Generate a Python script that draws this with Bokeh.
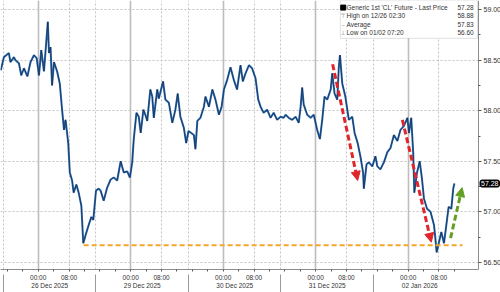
from bokeh.plotting import figure
from bokeh.models import (Range1d, LinearAxis, FixedTicker, Grid, Arrow, NormalHead,
                          Label, BoxAnnotation, NumeralTickFormatter)
from bokeh.core.properties import value
from bokeh.embed import file_html
from bokeh.resources import INLINE

# ---------------- data ----------------
# x: hours on the gap-compressed session axis (0 = start of the 26 Dec session block)
hours_26dec = [-0.7, 0.1, 1.4, 1.8, 2.7, 3.1, 4.0, 4.6, 5.3, 6.2, 7.0, 7.9, 8.6, 9.2, 9.8,
               10.5, 11.5, 11.8, 12.2, 12.6, 13.1, 13.9, 14.6, 15.2, 15.7, 16.1, 16.8, 17.2,
               17.8, 18.2, 18.9, 19.5, 20.2, 20.7, 21.3, 22.1, 22.8, 23.3]
price_26dec = [58.40, 58.53, 58.57, 58.48, 58.53, 58.50, 58.47, 58.35, 58.42, 58.34, 58.48,
               58.55, 58.52, 58.35, 58.60, 58.39, 58.88, 58.57, 58.63, 58.25, 58.48, 58.39,
               58.27, 58.01, 57.81, 57.91, 57.68, 57.39, 57.31, 57.19, 57.27, 57.19, 57.06,
               56.69, 56.77, 56.87, 56.95, 56.92]
hours_29dec = [24.0, 24.7, 25.2, 26.0, 26.9, 27.8, 28.6, 29.5, 30.4, 31.2, 32.1, 32.8, 33.4,
               33.8, 34.5, 35.1, 35.6, 36.3, 36.8, 37.3, 38.1, 38.6, 39.0, 39.9, 40.3, 41.4,
               42.0, 42.9, 43.8, 44.6, 45.2, 45.9, 46.8, 47.4]
price_29dec = [57.21, 57.23, 57.21, 57.11, 57.24, 57.32, 57.34, 57.31, 57.50, 57.39, 57.40,
               57.34, 57.49, 57.72, 57.98, 57.94, 57.78, 58.01, 57.96, 57.90, 58.21, 58.14,
               57.93, 58.21, 58.12, 58.29, 58.11, 58.08, 57.88, 58.01, 58.17, 57.94, 57.83,
               57.68]
hours_30dec = [48.0, 48.7, 49.4, 49.8, 50.3, 51.1, 52.0, 52.4, 53.3, 54.2, 55.0, 55.9, 56.6,
               57.2, 58.0, 58.9, 59.8, 60.6, 61.5, 62.1, 62.8, 63.7, 64.5, 65.4, 66.1, 66.7,
               67.5, 68.4, 69.3, 70.1, 71.0, 71.9]
price_30dec = [57.80, 57.78, 57.76, 57.62, 57.90, 57.93, 58.04, 58.14, 58.04, 58.21, 58.11,
               57.96, 58.04, 58.21, 58.30, 58.43, 58.30, 58.21, 58.45, 58.29, 58.37, 58.45,
               58.42, 58.32, 58.11, 58.04, 57.98, 58.01, 57.93, 57.98, 57.91, 57.94]
hours_31dec = [72.7, 73.2, 74.0, 74.9, 75.8, 76.6, 77.1, 77.5, 77.9, 78.8, 79.7, 80.5, 81.4,
               82.1, 82.7, 83.3, 84.0, 84.9, 85.3, 85.9, 86.6, 87.0, 87.3, 87.9, 88.7, 89.6,
               90.5, 91.1, 91.9, 92.6, 93.3, 93.5, 94.2, 94.8, 95.7]
price_31dec = [57.93, 57.96, 57.93, 57.91, 57.94, 57.88, 58.04, 58.23, 58.06, 57.96, 57.93,
               57.96, 57.81, 57.72, 57.91, 58.14, 58.11, 58.21, 58.37, 58.17, 58.11, 58.43,
               58.55, 58.27, 58.14, 57.91, 57.94, 57.78, 57.68, 57.55, 57.39, 57.23, 57.47,
               57.49, 57.45]
hours_02jan = [96.5, 97.0, 97.8, 98.7, 99.6, 100.4, 101.3, 102.2, 103.0, 103.9, 104.8, 105.2,
               105.8, 106.3, 106.6, 107.3, 108.0, 108.6, 109.1, 109.9, 110.8, 111.7, 112.0,
               112.4, 113.6, 114.3, 114.9, 115.5, 116.2, 116.7, 117.0]
price_02jan = [57.55, 57.45, 57.42, 57.49, 57.59, 57.63, 57.76, 57.70, 57.81, 57.85, 57.93,
               57.78, 57.93, 57.59, 57.19, 57.39, 57.50, 57.32, 57.13, 57.03, 57.00, 56.87,
               56.76, 56.60, 56.80, 56.69, 56.87, 57.05, 57.03, 57.23, 57.28]

day_labels = ["26 Dec 2025", "29 Dec 2025", "30 Dec 2025", "31 Dec 2025", "02 Jan 2026"]
time_labels = ["00:00", "08:00"]
y_tick_values = [56.5, 57.0, 57.5, 58.0, 58.5, 59.0]

legend_labels = ["Generic 1st 'CL' Future - Last Price", "High on 12/26 02:30",
                 "Average", "Low on 01/02 07:20"]
legend_values = ["57.28", "58.88", "57.83", "56.60"]
last_price = 57.28

support_level = 56.67
support_hours = [20.8, 119.1]

red_arrow_start = [(85.4, 58.46), (103.5, 57.91)]
red_arrow_end = [(91.9, 57.31), (111.0, 56.70)]
green_arrow_start = (116.0, 56.74)
green_arrow_end = (119.0, 57.24)

# ---------------- layout helpers ----------------
HOURS_PER_BLOCK = 24
MIDNIGHT_OFF = 9
EIGHT_OFF = 17
MIDDLE_OFF = 12
n_days = len(day_labels)

hours = hours_26dec + hours_29dec + hours_30dec + hours_31dec + hours_02jan
price = price_26dec + price_29dec + price_30dec + price_31dec + price_02jan

FONT = "Liberation Sans"
TXT = "#333333"
AX = "#8c8c8c"

X0 = -0.78          # left edge of the plotting area (hours)
X_AXIS = 123.25     # where the price axis sits (hours)
PLOT_W = 478.0      # pixels from left edge to the price axis
X1 = X0 + (X_AXIS - X0) * 500.0 / PLOT_W   # frame spans the whole canvas width

p = figure(width=500, height=292, x_range=Range1d(X0, X1),
           y_range=Range1d(56.43, 59.09), y_axis_location="right",
           toolbar_location=None, output_backend="svg",
           min_border_left=0, min_border_right=0, min_border_top=0, min_border_bottom=0)
p.outline_line_color = None
p.background_fill_color = "white"
p.border_fill_color = "white"

# right price axis, pinned at X_AXIS inside the frame
ya = p.yaxis[0]
ya.fixed_location = X_AXIS
ya.ticker = FixedTicker(ticks=y_tick_values,
                        minor_ticks=[v + 0.25 for v in y_tick_values])
ya.formatter = NumeralTickFormatter(format="0.00")
ya.major_label_text_font = FONT
ya.major_label_text_font_size = "7px"
ya.major_label_text_color = TXT
ya.axis_line_color = AX
ya.major_tick_line_color = "#555555"
ya.minor_tick_line_color = "#555555"
ya.major_tick_out = 3
ya.major_tick_in = 0
ya.minor_tick_out = 2
ya.minor_tick_in = 0
ya.major_label_standoff = 2

# bottom time axis: time labels on the first line, day labels on the second line
midnights = [HOURS_PER_BLOCK * k + MIDNIGHT_OFF for k in range(n_days)]
eights = [HOURS_PER_BLOCK * k + EIGHT_OFF for k in range(n_days)]
middles = [HOURS_PER_BLOCK * k + MIDDLE_OFF for k in range(n_days)]
separators = [HOURS_PER_BLOCK * k for k in range(n_days)]
four_hourly = [HOURS_PER_BLOCK * k + o for k in range(n_days) for o in (1, 5, 9, 13, 17, 21)]

xa = p.xaxis[0]
xa.bounds = (X0, X_AXIS)
xa.ticker = FixedTicker(ticks=sorted(midnights + eights + middles), minor_ticks=four_hourly)
overrides = {m: time_labels[0] for m in midnights}
overrides.update({e: time_labels[1] for e in eights})
overrides.update({m: "\n" + d for m, d in zip(middles, day_labels)})
xa.major_label_overrides = overrides
xa.major_label_text_font = FONT
xa.major_label_text_font_size = "6.5px"
xa.major_label_text_color = TXT
xa.major_label_text_line_height = 1.25
xa.axis_line_color = AX
xa.major_tick_line_color = None
xa.major_tick_out = 2
xa.major_tick_in = 0
xa.minor_tick_line_color = "#555555"
xa.minor_tick_out = 2
xa.minor_tick_in = 0
xa.major_label_standoff = 2

# session separators below the axis (drawn upward from a label-less axis)
sa = LinearAxis(ticker=FixedTicker(ticks=separators, minor_ticks=[]),
                major_label_overrides={s: "" for s in separators})
sa.major_label_text_font_size = "1px"
sa.axis_line_color = None
sa.major_tick_line_color = "#9a9a9a"
sa.major_tick_out = 0
sa.major_tick_in = 18
sa.major_label_standoff = 0
p.add_layout(sa, "below")

# grids
p.xgrid.grid_line_color = None
p.ygrid.grid_line_color = "#c4c4c4"
p.ygrid.grid_line_dash = "2 2"
p.ygrid.grid_line_width = 1
p.add_layout(Grid(dimension=0, ticker=FixedTicker(ticks=midnights),
                  grid_line_color="#bdbdbd", grid_line_width=1.6))
p.add_layout(Grid(dimension=0, ticker=FixedTicker(ticks=eights + separators),
                  grid_line_color="#c4c4c4", grid_line_dash="2 2", grid_line_width=1))

# blank strip right of the price axis (grid lines stop at the axis)
p.add_layout(BoxAnnotation(left=X_AXIS, right=X1 + 1, bottom=50, top=65,
                           fill_color="white", fill_alpha=1.0, line_color=None,
                           level="underlay"))

# legend box (drawn over the grid, under the glyphs)
PX = 102.0  # pixels per dollar (for small vertical offsets)
box_top, box_bot = 59.09, 59.0 - 29 / PX
p.add_layout(BoxAnnotation(left=87.4, right=123.0, top=box_top, bottom=box_bot,
                           fill_color="white", fill_alpha=1.0, line_color="#9a9a9a",
                           line_width=1, level="underlay"))

# price series
p.line(hours, price, line_color="#2f6db5", line_width=2.0)
p.line(hours, price, line_color="#0e1e33", line_width=0.7, line_alpha=0.85)

# support level
p.line(support_hours, [support_level] * 2, line_color="#f2a62c", line_width=2,
       line_dash="5 3")

# arrows
RED = "#e0262a"
GREEN = "#62a024"
for (x0, y0), (x1, y1) in zip(red_arrow_start, red_arrow_end):
    p.add_layout(Arrow(x_start=x0, y_start=y0, x_end=x1, y_end=y1,
                       line_color=RED, line_width=3, line_dash="6 3",
                       end=NormalHead(size=9, fill_color=RED, line_color=RED)))
p.add_layout(Arrow(x_start=green_arrow_start[0], y_start=green_arrow_start[1],
                   x_end=green_arrow_end[0], y_end=green_arrow_end[1],
                   line_color=GREEN, line_width=3, line_dash="6 3",
                   end=NormalHead(size=9, fill_color=GREEN, line_color=GREEN)))

# legend content
row_y = [59.02 - i * 8.4 / PX for i in range(len(legend_labels))]
p.text(x=[89.0] * 4, y=row_y, text=legend_labels, text_font=value(FONT),
       text_font_size="6.5px", text_baseline="middle", text_color=TXT)
p.text(x=[122.0] * 4, y=row_y, text=legend_values, text_font=value(FONT),
       text_font_size="6.5px", text_baseline="middle", text_align="right", text_color=TXT)
p.scatter(x=[88.15], y=[row_y[0]], marker="square", size=5, fill_color="black",
          line_color="black")
p.text(x=[88.15] * 3, y=row_y[1:], text=["\u22a4", "\u2013", "\u22a5"],
       text_font=value("DejaVu Sans"), text_font_size="6px", text_baseline="middle",
       text_align="center", text_color="#777777")

# last price tag next to the price axis
p.add_layout(Label(x=X_AXIS, y=last_price, x_offset=1.5, text=f"{last_price:.2f}",
                   text_font=FONT, text_font_size="7px", text_color="white",
                   text_baseline="middle", text_align="left",
                   background_fill_color="black", border_line_color="black",
                   padding=1, border_radius=2))

open("out.html", "w").write(file_html(p, INLINE))
